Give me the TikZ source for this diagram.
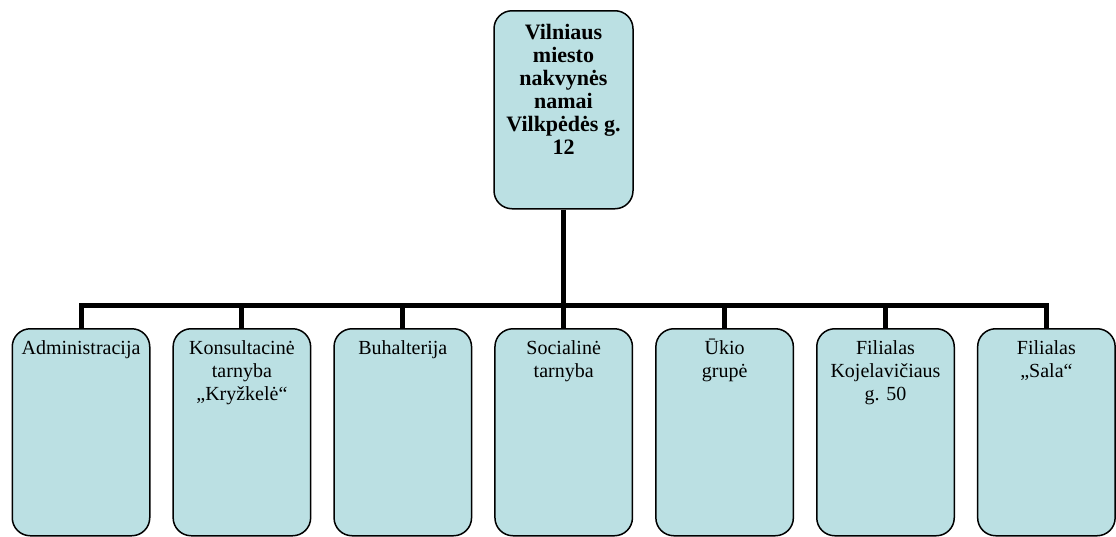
\documentclass[tikz,border=0pt]{standalone}
\usepackage{fontspec}
\setmainfont{Liberation Serif}
\definecolor{boxfill}{RGB}{187,224,227}
\tikzset{
  orgbox/.style={draw=black, line width=1.5pt, fill=boxfill, rounded corners=18pt,
    inner xsep=0pt, inner ysep=12pt, anchor=north},
  headbox/.style={orgbox, inner ysep=13pt},
  conn/.style={line width=5pt, draw=black},
}
\newcommand{\lowtext}[1]{\parbox[c][183pt][t]{137.5pt}{\centering\fontsize{20}{23}\selectfont\rule{0pt}{14pt}#1}}
\newcommand{\headtext}[1]{\parbox[c][172pt][t]{139pt}{\centering\fontsize{22}{23}\selectfont\bfseries\rule{0pt}{14pt}#1}}
\begin{document}
\begin{tikzpicture}[x=1pt,y=1pt]
\useasboundingbox (0,0) rectangle (1116,-536);
\node[headbox] (top) at (563.5,-10) {\headtext{Vilniaus\\ miesto\\ nakvynės\\ namai\\ Vilkpėdės g.\\ 12}};
\node[orgbox] (b1) at (81,-328) {\lowtext{Administracija}};
\node[orgbox] (b2) at (241.9,-328) {\lowtext{Konsultacinė\\ tarnyba\\ „Kryžkelė“}};
\node[orgbox] (b3) at (402.8,-328) {\lowtext{Buhalterija}};
\node[orgbox] (b4) at (563.7,-328) {\lowtext{Socialinė\\ tarnyba}};
\node[orgbox] (b5) at (724.6,-328) {\lowtext{\smash{Ū}kio\\ grupė}};
\node[orgbox] (b6) at (885.5,-328) {\lowtext{Filialas\\ Kojelavičiaus\\ g. 50}};
\node[orgbox] (b7) at (1046.4,-328) {\lowtext{Filialas\\ „Sala“}};
\coordinate (bus) at (563.5,-305);
\draw[conn] (top.south) -- (bus);
\draw[conn] (b1.north) |- (bus) -| (b7.north);
\foreach \b in {b2,b3,b4,b5,b6} {
  \draw[conn] (\b.north) -- (\b.north |- bus);
}
\end{tikzpicture}
\end{document}
